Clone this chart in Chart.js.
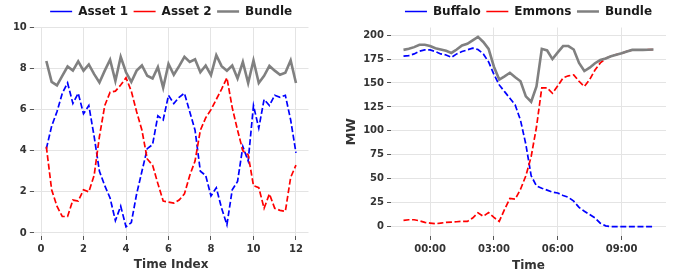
<!DOCTYPE html>
<html><head><meta charset="utf-8">
<script src="https://cdn.jsdelivr.net/npm/chart.js@4/dist/chart.umd.min.js"></script>
<style>
html,body{margin:0;padding:0;background:#fff;}
#wrap{position:relative;width:677px;height:273px;overflow:hidden;}
#c1{position:absolute;left:0;top:0;}
#c2{position:absolute;left:338px;top:0;}
</style></head><body>
<div id="wrap"><canvas id="c1" width="338" height="273"></canvas><canvas id="c2" width="339" height="273"></canvas></div>
<script>
// ---------- Left chart data ----------
const timeIndex = [0.25,0.5,0.75,1,1.25,1.5,1.75,2,2.25,2.5,2.75,3,3.25,3.5,3.75,4,4.25,4.5,4.75,5,5.25,5.5,5.75,6,6.25,6.5,6.75,7,7.25,7.5,7.75,8,8.25,8.5,8.75,9,9.25,9.5,9.75,10,10.25,10.5,10.75,11,11.25,11.5,11.75,12];
const asset1 = [4.1,5.2,5.9,6.8,7.3,6.3,6.8,5.8,6.2,4.7, 3.0,2.3,1.7,0.6,1.3,0.3,0.5,1.9,3.0,4.1, 4.3,5.7,5.5,6.7,6.3,6.6,6.8,5.9,5.0,3.0, 2.8,1.8,2.2,1.2,0.4,2.1,2.5,4.2,3.5,6.2, 5.1,6.5,6.2,6.7,6.6,6.7,5.5,3.9];
const asset2 = [4.2,2.1,1.3,0.8,0.8,1.6,1.55,2.1,2.0,2.8, 4.7,6.2,6.85,6.9,7.2,7.55,6.9,5.9,5.0,3.6, 3.3,2.4,1.55,1.5,1.45,1.6,1.9,2.8,3.5,5.0, 5.6,6.0,6.5,7.0,7.55,6.1,5.0,4.0,3.8,2.3, 2.2,1.2,1.9,1.2,1.1,1.05,2.7,3.3];
const bundleLeft = [8.37,7.35,7.18,7.65,8.1,7.9,8.35,7.9,8.2,7.73, 7.32,7.9,8.43,7.4,8.57,7.82,7.35,7.9,8.15,7.65, 7.52,8.07,7.07,8.23,7.7,8.12,8.57,8.32,8.45,7.82, 8.15,7.68,8.65,8.12,7.9,8.15,7.52,8.32,7.3,8.4, 7.3,7.65,8.13,7.9,7.7,7.8,8.4,7.3];
const leftXTicks = [0,2,4,6,8,10,12];
const leftYTicks = [0,2,4,6,8,10];

// ---------- Right chart data ----------
const timeLabels = ['22:45','23:00','23:15','23:30','23:45','00:00','00:15','00:30','00:45','01:00','01:15','01:30','01:45','02:00','02:15','02:30','02:45','03:00','03:15','03:30','03:45','04:00','04:15','04:30','04:45','05:00','05:15','05:30','05:45','06:00','06:15','06:30','06:45','07:00','07:15','07:30','07:45','08:00','08:15','08:30','08:45','09:00','09:15','09:30','09:45','10:00','10:15','10:30'];
const buffalo = [178,178.6,180.4,183.2,184.6,184.6,182.9,180.4,179.3,176.8, 180.4,182.9,184.6,186.4,185,180.4,172,159,148,141, 134,127,111,86,53,42.5,40,38,36,35, 32.5,30.5,26.5,20,16,12.5,9,3.5,0.7,0, 0,0,0,0,0,0,0,0];
const emmons = [6.4,7.1,7.1,6,4.3,3.6,2.9,3.6,4.3,4.6, 5,5.4,5.4,8.9,14.3,10.7,14.5,9.5,5.4,17.9, 29.3,28.6,39,53,73,104,145,145,139.3,147, 155.4,157.5,158.5,151.8,146.4,153.6,163.5,171,175.5,178, 179.6,181,183,184.6,184.6,184.6,184.8,185];
const bundleRight = [184.6,185.7,187.5,190,190,188.6,186.4,185,183.6,181.4, 185,189.3,191,194.6,198.2,192.9,185.7,167,153.6,157, 160.7,156,151.8,136,130.4,146.4,185.7,184,175,182, 188.6,188.6,185,171,162.5,166,170.7,174,175.7,177.9, 179.6,181,183,184.6,184.6,184.6,184.8,185];
const rightXTickLabels = ['00:00','03:00','06:00','09:00'];
const rightYTicks = [0,25,50,75,100,125,150,175,200];

function toHours(s){ const p = s.split(':').map(Number); let v = p[0] + p[1]/60; if (v >= 18) v -= 24; return v; }
const rightX = timeLabels.map(toHours);
const rightXTicks = rightXTickLabels.map(toHours);

const FONT = 'DejaVu Sans';
const TICK_COLOR = '#333333';
const GRID = '#e4e4e4';

const legendCenter = {
  id: 'legendCenter',
  beforeDraw(chart){
    const l = chart.legend; if (!l) return;
    const w = l.right - l.left;
    const c = (chart.chartArea.left + chart.chartArea.right) / 2;
    l.left = c - w/2; l.right = c + w/2;
  }
};

function series(xs, ys){ return xs.map((x,i)=>({x:x, y:ys[i]})); }

function dashed(label, color, xs, ys, order){
  return {label, data: series(xs, ys), borderColor: color, backgroundColor: color, borderWidth: 1.7,
    borderDash: [6,2.6], pointRadius: 0, tension: 0, fill: false, order: order};
}
function solid(label, color, xs, ys, order){
  return {label, data: series(xs, ys), borderColor: color, backgroundColor: color, borderWidth: 2.6,
    pointRadius: 0, tension: 0, fill: false, order: order};
}

function axis(opts){
  return {
    type: 'linear', min: opts.min, max: opts.max,
    afterBuildTicks: (s) => { s.ticks = opts.ticks.map(v => ({value: v})); },
    afterFit: opts.afterFit,
    grid: {color: GRID, lineWidth: 1, drawTicks: true, tickLength: 4, tickColor: '#555555', tickWidth: 1},
    border: {display: false},
    ticks: {font: {family: FONT, weight: 'bold', size: 10}, color: TICK_COLOR, padding: 3, maxRotation: 0, autoSkip: false,
      callback: opts.callback || ((v) => String(v))},
    title: opts.title ? {display: true, text: opts.title, color: TICK_COLOR,
      font: {family: FONT, weight: 'bold', size: opts.titleSize || 12}, padding: opts.titlePad} : {display: false}
  };
}

function options(cfg){
  return {
    responsive: false, animation: false, devicePixelRatio: 1,
    layout: {padding: {top: 0, right: cfg.padRight, left: 0, bottom: 0}},
    plugins: {
      legend: {position: 'top', labels: {usePointStyle: true, pointStyle: 'line', pointStyleWidth: 22,
        sort: (a, b) => a.datasetIndex - b.datasetIndex,
        font: {family: FONT, weight: 'bold', size: 12}, color: '#1a1a1a', padding: 5.5}},
      tooltip: {enabled: false}
    },
    scales: {x: cfg.x, y: cfg.y}
  };
}

new Chart(document.getElementById('c1'), {
  type: 'line',
  data: {datasets: [
    dashed('Asset 1', '#0000ff', timeIndex, asset1, 3),
    dashed('Asset 2', '#ff0000', timeIndex, asset2, 2),
    solid('Bundle', '#808080', timeIndex, bundleLeft, 1)
  ]},
  options: options({
    padRight: 29.5,
    x: axis({min: -0.34, max: 12.59, ticks: leftXTicks, title: 'Time Index', titlePad: {top: 0, bottom: 1},
      afterFit: (s) => { s.height = 37; }}),
    y: axis({min: -0.15, max: 10, ticks: leftYTicks, afterFit: (s) => { s.width = 33.8; }})
  }),
  plugins: [legendCenter]
});

new Chart(document.getElementById('c2'), {
  type: 'line',
  data: {datasets: [
    dashed('Buffalo', '#0000ff', rightX, buffalo, 3),
    dashed('Emmons', '#ff0000', rightX, emmons, 2),
    solid('Bundle', '#808080', rightX, bundleRight, 1)
  ]},
  options: options({
    padRight: 11,
    x: axis({min: -1.8375, max: 11.0875, ticks: rightXTicks, title: 'Time', titlePad: {top: 0, bottom: 0},
      callback: (v) => rightXTickLabels[rightXTicks.indexOf(v)],
      afterFit: (s) => { s.height = 37; }}),
    y: axis({min: -9.9, max: 208, ticks: rightYTicks, title: 'MW', titleSize: 13, titlePad: {top: 6, bottom: 0},
      afterFit: (s) => { s.width = 53; }})
  }),
  plugins: [legendCenter]
});
</script>
</body></html>
